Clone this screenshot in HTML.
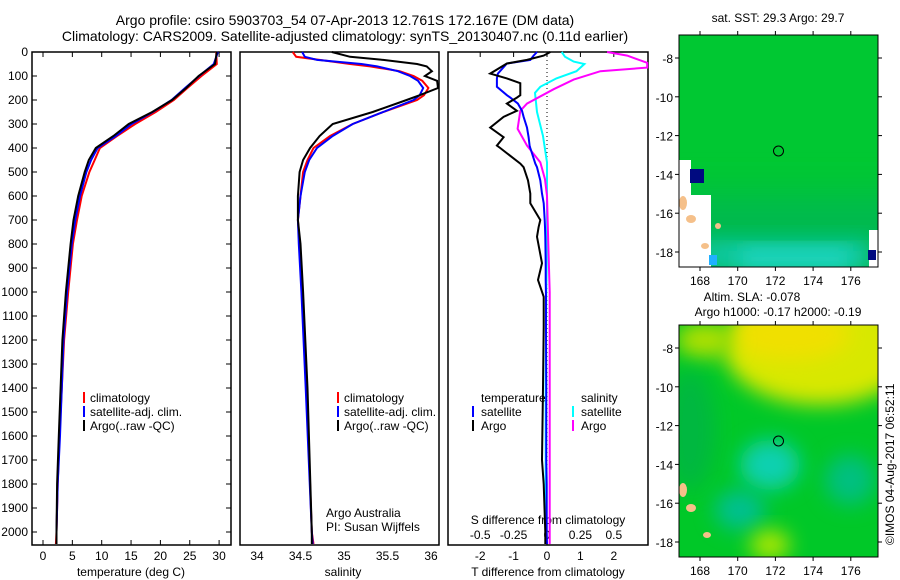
<!DOCTYPE html>
<html><head><meta charset="utf-8"><style>
body{margin:0;background:#fff}
svg{display:block;font-family:"Liberation Sans",sans-serif;font-size:12px}
</style></head><body>
<svg id="c" width="900" height="580" viewBox="0 0 900 580">
<defs>
<filter id="bl" x="-50%" y="-50%" width="200%" height="200%"><feGaussianBlur stdDeviation="10"/></filter>
<filter id="bl2" x="-50%" y="-50%" width="200%" height="200%"><feGaussianBlur stdDeviation="18"/></filter>
<clipPath id="m1"><rect x="679" y="35" width="199" height="232"/></clipPath>
<clipPath id="m2"><rect x="679" y="325" width="199" height="232"/></clipPath>
</defs>
<text x="345" y="25" text-anchor="middle" font-size="14">Argo profile: csiro 5903703_54 07-Apr-2013 12.761S 172.167E (DM data)</text>
<text x="345" y="41" text-anchor="middle" font-size="14">Climatology: CARS2009. Satellite-adjusted climatology: synTS_20130407.nc (0.11d earlier)</text>

<!-- map 1 -->
<g clip-path="url(#m1)">
<rect x="679" y="35" width="199" height="232" fill="#00c832"/>
<rect x="640" y="195" width="280" height="100" fill="#00b950" filter="url(#bl2)"/>
<rect x="700" y="240" width="170" height="30" fill="#10c8a0" filter="url(#bl)"/>
<rect x="740" y="250" width="110" height="18" fill="#20d8c8" filter="url(#bl)"/>
<rect x="679" y="160" width="12" height="107" fill="#fff"/>
<rect x="691" y="195" width="20" height="72" fill="#fff"/>
<rect x="690" y="169" width="14" height="14" fill="#000a80"/>
<rect x="869" y="230" width="9" height="37" fill="#fff"/>
<rect x="868" y="250" width="8" height="10" fill="#000a80"/>
<rect x="709" y="255" width="8" height="10" fill="#20b0ff"/>
<ellipse cx="683" cy="203" rx="4" ry="7" fill="#f5c08a"/>
<ellipse cx="691" cy="219" rx="5" ry="4" fill="#f5c08a"/>
<ellipse cx="705" cy="246" rx="4" ry="3" fill="#f5c08a"/>
<ellipse cx="718" cy="226" rx="3" ry="3" fill="#f5c08a"/>
</g>
<rect x="679" y="35" width="199" height="232" fill="none" stroke="#000"/>
<circle cx="778.5" cy="151" r="5" fill="none" stroke="#000"/>
<text x="778" y="22" text-anchor="middle">sat. SST: 29.3 Argo: 29.7</text>

<!-- map 2 -->
<g clip-path="url(#m2)">
<rect x="679" y="325" width="199" height="232" fill="#00c828"/>
<ellipse cx="820" cy="350" rx="95" ry="55" fill="#d8e800" filter="url(#bl)"/>
<ellipse cx="790" cy="335" rx="60" ry="25" fill="#f0e000" filter="url(#bl)"/>
<ellipse cx="705" cy="340" rx="30" ry="18" fill="#b0e000" filter="url(#bl)"/>
<ellipse cx="690" cy="430" rx="25" ry="60" fill="#00b840" filter="url(#bl)"/>
<ellipse cx="770" cy="465" rx="30" ry="25" fill="#10d0b0" filter="url(#bl)"/>
<ellipse cx="850" cy="480" rx="25" ry="25" fill="#00c080" filter="url(#bl)"/>
<ellipse cx="740" cy="510" rx="25" ry="20" fill="#00c090" filter="url(#bl)"/>
<ellipse cx="770" cy="545" rx="20" ry="15" fill="#b0e800" filter="url(#bl)"/>
<ellipse cx="683" cy="490" rx="4" ry="7" fill="#f5c08a"/>
<ellipse cx="691" cy="508" rx="5" ry="4" fill="#f5c08a"/>
<ellipse cx="707" cy="535" rx="4" ry="3" fill="#f5c08a"/>
</g>
<rect x="679" y="325" width="199" height="232" fill="none" stroke="#000"/>
<circle cx="778.5" cy="441" r="5" fill="none" stroke="#000"/>
<text x="752" y="301" text-anchor="middle">Altim. SLA: -0.078</text>
<text x="778" y="316" text-anchor="middle">Argo h1000: -0.17 h2000: -0.19</text>
<text transform="translate(894,545) rotate(-90)" font-size="12">©IMOS 04-Aug-2017 06:52:11</text>

<g id="axes"></g>
<g id="series"></g>

<g>
<rect x="83" y="392" width="2" height="11" fill="#f00"/><text x="90" y="402">climatology</text>
<rect x="83" y="406" width="2" height="11" fill="#00f"/><text x="90" y="416">satellite-adj. clim.</text>
<rect x="83" y="420" width="2" height="11" fill="#000"/><text x="90" y="430">Argo(..raw -QC)</text>
</g>
<g>
<rect x="337" y="392" width="2" height="11" fill="#f00"/><text x="344" y="402">climatology</text>
<rect x="337" y="406" width="2" height="11" fill="#00f"/><text x="344" y="416">satellite-adj. clim.</text>
<rect x="337" y="420" width="2" height="11" fill="#000"/><text x="344" y="430">Argo(..raw -QC)</text>
</g>
<text x="326" y="517">Argo Australia</text>
<text x="326" y="531">PI: Susan Wijffels</text>
<g>
<text x="481" y="402">temperature</text>
<rect x="472" y="406" width="2" height="11" fill="#00f"/><text x="481" y="416">satellite</text>
<rect x="472" y="420" width="2" height="11" fill="#000"/><text x="481" y="430">Argo</text>
<text x="581" y="402">salinity</text>
<rect x="572" y="406" width="2" height="11" fill="#0ff"/><text x="581" y="416">satellite</text>
<rect x="572" y="420" width="2" height="11" fill="#f0f"/><text x="581" y="430">Argo</text>
</g>
</svg>
<script>
const depthTicks=[0,100,200,300,400,500,600,700,800,900,1000,1100,1200,1300,1400,1500,1600,1700,1800,1900,2000];
const tTicks=[0,5,10,15,20,25,30];
const sTicks=[34,34.5,35,35.5,36];
const tdTicks=[-2,-1,0,1,2];
const sdTicks=[-0.5,-0.25,0,0.25,0.5];
const sdTickLabels=["-0.5","-0.25","0","0.25","0.5"];
const lonTicks=[168,170,172,174,176];
const latTicks=[-8,-10,-12,-14,-16,-18];

const tDepth=[0,50,100,150,200,250,300,350,400,450,500,600,700,800,1000,1200,1400,1600,1800,2000,2050];
const tClim=[29.5,29.6,27,24.6,22.3,19.2,15.7,12.6,9.7,8.8,7.9,6.6,5.8,5.1,4.3,3.6,3.2,2.8,2.5,2.3,2.2];
const tSat=[29.8,29.1,26.6,24.2,21.9,18.7,15.1,12.4,9.3,8.2,7.4,6.3,5.5,4.9,4.1,3.5,3.2,2.9,2.5,2.3,2.3];
const tArgo=[29.6,29.3,26.5,24.4,22,18.6,14.6,12,9,7.8,7.1,6,5.2,4.7,3.9,3.3,3,2.7,2.4,2.3,2.3];

const sDepth=[0,20,33,50,60,80,100,120,150,180,200,250,300,350,400,450,500,600,700,800,1000,1400,2000,2050];
const sClim=[34.41,34.45,34.72,35.07,35.3,35.64,35.8,35.9,35.97,35.92,35.84,35.45,35.1,34.84,34.65,34.58,34.53,34.5,34.47,34.49,34.52,34.57,34.63,34.65];
const sSat=[34.52,34.55,34.69,35.2,35.38,35.62,35.76,35.85,35.91,35.87,35.8,35.45,35.1,34.87,34.69,34.6,34.55,34.5,34.47,34.48,34.51,34.56,34.63,34.64];
const sArgo=[34.86,35.07,35.45,35.84,35.95,36.01,35.93,36.07,36.08,35.87,35.72,35.33,34.87,34.72,34.61,34.53,34.49,34.47,34.47,34.5,34.53,34.58,34.63,34.63];

const dtDepth=[0,15,33,48,90,110,130,145,180,190,215,245,270,315,355,390,400,465,480,535,590,630,700,730,770,880,950,1020,1145,1400,1700,1800,2000,2050];
const dtSat=[-0.3,-0.4,-0.5,-1.2,-1.47,-1.5,-1.5,-1.5,-1.2,-1.1,-0.87,-0.75,-0.7,-0.6,-0.55,-0.52,-0.5,-0.35,-0.3,-0.2,-0.15,-0.1,-0.07,-0.06,-0.05,-0.04,-0.04,-0.03,-0.03,-0.02,-0.02,-0.01,-0.01,0];
const dtArgo=[0.1,-0.1,-0.6,-1.2,-1.7,-1.2,-0.8,-0.8,-0.8,-0.9,-1.2,-0.9,-1.3,-1.7,-1.3,-1.5,-1.4,-0.8,-0.7,-0.57,-0.5,-0.5,-0.2,-0.25,-0.3,-0.15,-0.27,-0.1,-0.1,-0.12,-0.15,-0.1,-0.05,-0.05];

const dsDepth=[0,20,40,50,80,110,145,170,250,350,460,600,800,1000,1400,1800,2000,2050];
const dsSat=[0.11,0.135,0.2,0.28,0.22,0.07,-0.05,-0.09,-0.075,-0.03,0,0,0,-0.005,-0.01,-0.01,-0.01,-0.01];
const dsDepthA=[0,15,45,65,80,115,155,215,245,320,390,460,530,600,800,1000,1400,1800,2000,2050];
const dsArgo=[0.45,0.6,0.75,0.75,0.4,0.2,0.05,-0.15,-0.2,-0.22,-0.15,-0.05,-0.015,0,0.01,0.02,0.02,0.02,0.02,0.02];

const NS="http://www.w3.org/2000/svg";
const axes=document.getElementById('axes'), ser=document.getElementById('series');
const Y=d=>52+d*0.24;
const xT=v=>43+v*5.87, xS=v=>257+(v-34)*87, xTD=v=>547+v*33.4, xSD=v=>547+v*133.6;
const lonX1=v=>700+(v-168)*18.85, latY1=v=>58+(-8-v)*19.4, latY2=v=>348+(-8-v)*19.4;
function mk(tag,attrs,parent,txt){const e=document.createElementNS(NS,tag);for(const k in attrs)e.setAttribute(k,attrs[k]);if(txt!==undefined)e.textContent=txt;parent.appendChild(e);return e;}

const panels=[[32,231,'temp-panel'],[240,439,'salinity-panel'],[448,648,'diff-panel']];
panels.forEach(p=>{
  const r=mk('rect',{x:p[0],y:52,width:p[1]-p[0],height:493,fill:'none',stroke:'#000','stroke-width':1.5},axes);
  
  
});
depthTicks.forEach(d=>{
  const y=Y(d);
  mk('line',{x1:32,x2:37,y1:y,y2:y,stroke:'#000'},axes);
  mk('line',{x1:226,x2:231,y1:y,y2:y,stroke:'#000'},axes);
  const t=mk('text',{x:28,y:y+4,'text-anchor':'end'},axes,String(d));
  
  
});
function xaxis(ticks,fx,labels,ylab,top,bot){
  ticks.forEach((v,i)=>{const x=fx(v);
    if(top){mk('line',{x1:x,x2:x,y1:52,y2:57,stroke:'#000'},axes);}
    if(bot){mk('line',{x1:x,x2:x,y1:540,y2:545,stroke:'#000'},axes);}
    const t=mk('text',{x:x,y:ylab,'text-anchor':'middle'},axes,labels?labels[i]:String(v));
    
    
  });
}
xaxis(tTicks,xT,null,560,true,true);
xaxis(sTicks,xS,null,560,false,false);
xaxis(tdTicks,xTD,null,560,true,false);
xaxis(sdTicks,xSD,sdTickLabels,539,false,false);
[[131,'temperature (deg C)','temp-axis-title'],[343,'salinity','salinity-axis-title'],[548,'T difference from climatology','tdiff-axis-title']].forEach(a=>{
  const t=mk('text',{x:a[0],y:576,'text-anchor':'middle'},axes,a[1]);
  
  
});
const st=mk('text',{x:548,y:524,'text-anchor':'middle'},axes,'S difference from climatology');


mk('line',{x1:547,x2:547,y1:52,y2:545,stroke:'#000','stroke-dasharray':'1,3'},axes);
[[35,267,latY1],[325,557,latY2]].forEach(m=>{
  lonTicks.forEach(v=>{const x=lonX1(v);
    mk('line',{x1:x,x2:x,y1:m[0]-4,y2:m[0],stroke:'#000'},axes);
    mk('line',{x1:x,x2:x,y1:m[1],y2:m[1]+4,stroke:'#000'},axes);
    const t=mk('text',{x:x,y:m[1]+18,'text-anchor':'middle'},axes,String(v));
    
    
  });
  latTicks.forEach(v=>{const y=m[2](v);
    mk('line',{x1:675,x2:679,y1:y,y2:y,stroke:'#000'},axes);
    mk('line',{x1:878,x2:882,y1:y,y2:y,stroke:'#000'},axes);
    const t=mk('text',{x:673,y:y+5,'text-anchor':'end'},axes,String(v));
    
    
  });
});
function line(ds,vs,fx,col,name,w){
  const d=ds.map((z,i)=>(i?'L':'M')+fx(vs[i]).toFixed(1)+','+Y(z).toFixed(1)).join('');
  const p=mk('path',{d:d,fill:'none',stroke:col,'stroke-width':w||2},ser);
  
  
}
line(tDepth,tClim,xT,'#f00','temp-climatology-line');
line(tDepth,tSat,xT,'#00f','temp-satellite-line');
line(tDepth,tArgo,xT,'#000','temp-argo-line');
line(sDepth,sClim,xS,'#f00','sal-climatology-line');
line(sDepth,sSat,xS,'#00f','sal-satellite-line');
line(sDepth,sArgo,xS,'#000','sal-argo-line');
line(dsDepth,dsSat,xSD,'#0ff','sdiff-satellite-line');
line(dsDepthA,dsArgo,xSD,'#f0f','sdiff-argo-line');
line(dtDepth,dtSat,xTD,'#00f','tdiff-satellite-line');
line(dtDepth,dtArgo,xTD,'#000','tdiff-argo-line');
</script>
</body></html>
